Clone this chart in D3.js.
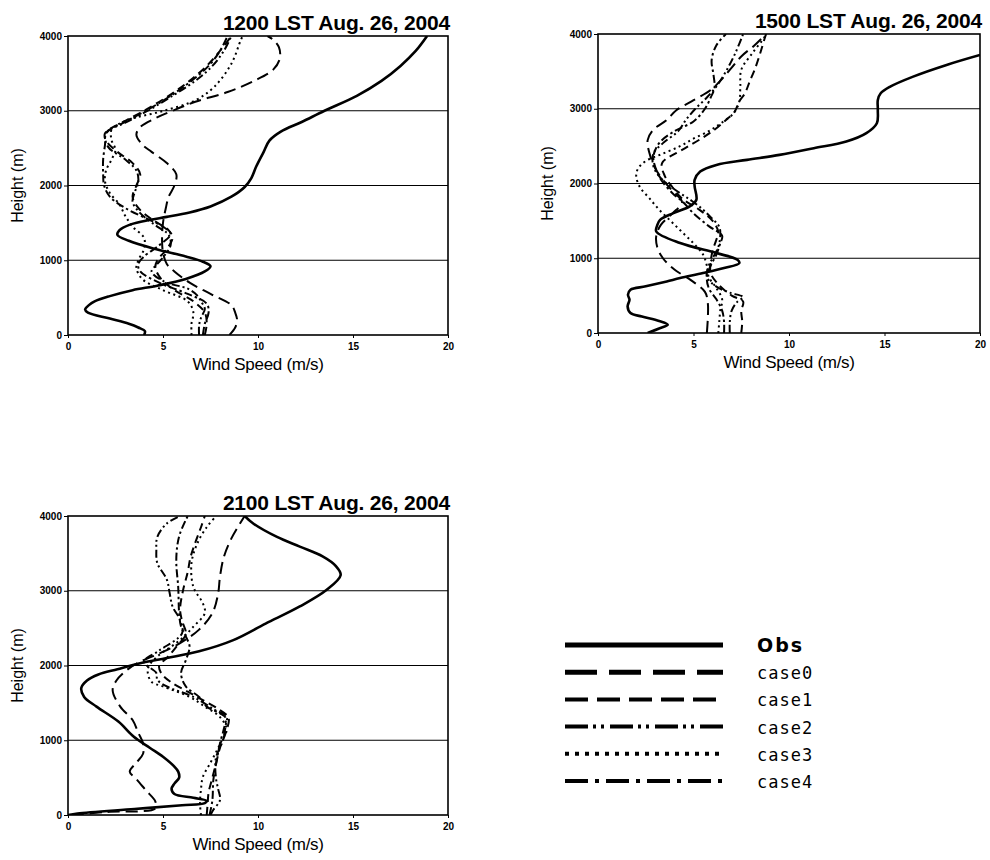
<!DOCTYPE html>
<html>
<head>
<meta charset="utf-8">
<script src="https://cdnjs.cloudflare.com/ajax/libs/d3/7.8.5/d3.min.js"></script>
<style>
body { margin: 0; background: #fff; }
</style>
</head>
<body>
<script>
var xTicks = [0, 5, 10, 15, 20];
var yTicks = [0, 1000, 2000, 3000, 4000];
var gridLevels = [1000, 2000, 3000];
var seriesNames = ["Obs", "case0", "case1", "case2", "case3", "case4"];
var panelTitles = ["1200 LST Aug. 26, 2004", "1500 LST Aug. 26, 2004", "2100 LST Aug. 26, 2004"];

// profiles: [height (m), wind speed (m/s)]
var obs1200 = [[0,4.0],[50,4.05],[100,3.7],[150,3.2],[220,2.2],[300,1.05],[340,0.9],[400,1.1],[450,1.4],[520,2.2],[600,3.4],[660,4.7],[750,6.2],[850,7.2],[920,7.5],[980,7.1],[1050,6.2],[1150,4.6],[1260,3.2],[1340,2.6],[1400,2.7],[1480,3.3],[1540,4.3],[1580,5.2],[1640,6.4],[1720,7.5],[1850,8.6],[1980,9.3],[2100,9.65],[2250,9.9],[2450,10.3],[2600,10.6],[2720,11.2],[2850,12.3],[3000,13.5],[3200,15.2],[3400,16.5],[3600,17.5],[3800,18.3],[4000,18.9]];
var case0_1200 = [[0,8.5],[100,8.8],[200,8.9],[300,8.8],[400,8.6],[550,7.5],[700,6.4],[850,5.6],[950,5.2],[1100,5.0],[1300,4.95],[1500,5.0],[1700,5.15],[1850,5.3],[2000,5.6],[2150,5.7],[2300,5.2],[2450,4.4],[2550,3.9],[2680,3.6],[2780,3.8],[2900,4.6],[3000,5.5],[3120,6.7],[3250,8.4],[3400,9.8],[3550,10.8],[3700,11.15],[3850,11.1],[3950,10.8],[4000,10.5]];
var case1_1200 = [[0,7.2],[150,7.3],[300,7.2],[450,6.6],[600,5.6],[750,4.9],[900,4.6],[1000,4.7],[1150,5.2],[1300,5.5],[1400,5.3],[1550,4.4],[1700,3.7],[1850,3.4],[2000,3.6],[2150,3.8],[2300,3.4],[2450,2.6],[2600,2.0],[2700,1.95],[2850,2.9],[3000,4.0],[3200,5.3],[3400,6.4],[3600,7.3],[3800,8.0],[4000,8.6]];
var case2_1200 = [[0,6.9],[130,6.9],[230,7.0],[350,7.2],[450,7.0],[530,6.8],[620,6.3],[710,5.1],[850,4.4],[950,4.7],[1070,5.1],[1200,5.4],[1340,5.3],[1450,4.7],[1630,3.8],[1780,3.4],[1900,3.5],[2050,3.7],[2200,3.6],[2350,3.0],[2520,2.1],[2700,2.0],[2850,3.1],[3000,4.2],[3200,5.5],[3400,6.7],[3600,7.6],[3800,8.2],[4000,8.6]];
var case3_1200 = [[0,6.5],[150,6.5],[300,6.6],[450,6.3],[600,5.0],[750,3.9],[900,3.6],[1000,3.7],[1150,4.0],[1300,4.0],[1450,3.4],[1600,3.0],[1750,2.7],[1900,2.2],[2050,1.95],[2200,2.0],[2350,2.3],[2480,2.5],[2600,2.3],[2750,2.3],[2880,3.2],[2990,4.9],[3140,6.7],[3320,7.7],[3630,8.6],[3950,9.1],[4000,9.2]];
var case4_1200 = [[0,7.1],[150,7.2],[300,7.4],[420,7.3],[550,6.3],[700,4.8],[850,3.8],[950,3.7],[1050,4.0],[1200,4.8],[1350,5.4],[1450,5.0],[1550,4.2],[1700,3.0],[1850,2.2],[2000,1.9],[2150,1.85],[2350,1.85],[2550,1.95],[2700,2.0],[2850,3.0],[3000,4.1],[3200,5.4],[3400,6.5],[3600,7.4],[3800,8.0],[4000,8.4]];

var obs1500 = [[0,2.6],[60,3.2],[110,3.65],[160,3.2],[220,2.3],[267,1.7],[356,1.55],[445,1.65],[512,1.57],[579,1.7],[624,2.5],[690,3.6],[735,4.3],[802,5.5],[870,6.6],[935,7.4],[980,7.3],[1069,6.2],[1203,4.3],[1358,3.05],[1440,3.1],[1514,3.25],[1604,3.95],[1693,4.8],[1782,5.15],[1960,5.06],[2049,5.06],[2160,5.35],[2249,6.2],[2316,7.8],[2383,9.5],[2472,11.3],[2561,13.0],[2673,14.05],[2806,14.6],[2984,14.65],[3118,14.65],[3207,14.8],[3296,15.3],[3430,16.5],[3586,18.25],[3719,20.0]];
var case0_1500 = [[0,5.7],[200,5.75],[400,5.75],[550,5.6],[700,4.9],[850,4.0],[1000,3.4],[1150,3.1],[1300,3.05],[1450,3.3],[1600,3.9],[1750,4.4],[1900,3.9],[2050,3.4],[2200,3.0],[2400,2.7],[2580,2.6],[2720,2.9],[2850,3.6],[2980,4.1],[3100,4.9],[3250,5.9],[3400,6.5],[3550,7.0],[3700,7.5],[3850,8.2],[4000,8.8]];
var case1_1500 = [[0,7.5],[150,7.55],[300,7.5],[420,7.6],[500,7.0],[650,6.3],[800,5.9],[950,5.9],[1100,6.0],[1250,6.2],[1350,6.3],[1500,6.0],[1650,5.3],[1800,4.4],[1950,3.9],[2100,3.5],[2270,3.35],[2450,4.4],[2600,5.4],[2720,6.1],[2850,6.7],[2960,7.15],[3100,7.4],[3210,7.7],[3370,7.95],[3520,8.2],[3750,8.5],[3920,8.7],[4000,8.8]];
var case2_1500 = [[0,6.9],[150,6.9],[300,7.0],[420,7.3],[480,7.6],[540,6.9],[620,6.2],[750,5.7],[900,5.8],[1000,6.0],[1150,6.3],[1300,6.4],[1420,6.35],[1550,5.9],[1650,5.5],[1770,4.9],[1870,4.3],[2000,3.6],[2100,3.2],[2230,2.9],[2400,2.9],[2540,3.4],[2700,4.2],[2850,4.6],[3000,5.1],[3150,5.7],[3300,6.2],[3500,6.7],[3750,7.2],[4000,7.6]];
var case3_1500 = [[0,6.3],[150,6.35],[300,6.4],[450,6.5],[600,6.2],[750,5.8],[900,5.7],[1050,5.5],[1200,5.0],[1350,4.4],[1500,3.8],[1650,3.2],[1800,2.7],[1950,2.2],[2100,2.0],[2200,2.1],[2300,2.5],[2400,3.4],[2500,4.3],[2600,5.0],[2700,5.8],[2800,6.4],[2940,7.1],[3100,7.4],[3300,7.45],[3520,7.5],[3750,8.1],[3950,8.7],[4000,8.8]];
var case4_1500 = [[0,6.6],[150,6.6],[300,6.5],[450,6.2],[600,5.8],[750,5.7],[900,5.9],[1050,6.2],[1200,6.4],[1300,6.5],[1430,5.8],[1600,5.0],[1740,4.5],[1870,3.9],[2050,3.3],[2180,3.05],[2360,2.9],[2540,3.2],[2700,4.0],[2830,5.0],[3000,5.6],[3150,5.9],[3280,6.1],[3450,6.05],[3650,5.95],[3850,6.2],[4000,6.7]];

var obs2100 = [[0,0],[20,0.5],[80,3.5],[130,6.0],[160,7.2],[190,7.3],[230,6.6],[280,5.6],[350,5.45],[420,5.6],[500,5.85],[580,5.8],[660,5.55],[780,5.0],[900,4.3],[1050,3.45],[1250,2.65],[1450,1.5],[1580,0.85],[1700,0.7],[1800,1.0],[1880,1.6],[1950,2.6],[2030,3.8],[2100,5.2],[2190,6.9],[2340,8.7],[2560,10.4],[2790,12.2],[3010,13.6],[3210,14.35],[3330,14.1],[3460,13.4],[3590,12.2],[3720,11.0],[3900,9.75],[4000,9.3]];
var case0_2100 = [[0,0.2],[40,2.0],[90,4.6],[180,4.6],[330,4.1],[480,3.6],[580,3.25],[700,3.6],[820,3.95],[960,3.95],[1100,3.7],[1270,3.4],[1450,2.75],[1670,2.35],[1800,2.55],[1940,3.1],[2050,3.8],[2160,4.8],[2300,5.9],[2480,6.9],[2700,7.6],[2960,7.9],[3190,8.0],[3450,8.2],[3700,8.6],[4000,9.3]];
var case1_2100 = [[0,7.3],[150,7.35],[300,7.4],[500,7.6],[700,7.8],[900,8.0],[1100,8.3],[1300,8.45],[1420,7.9],[1550,7.0],[1650,6.3],[1780,5.4],[1900,4.9],[2000,4.8],[2100,5.2],[2250,5.7],[2420,6.2],[2600,6.0],[2750,5.9],[3000,6.05],[3250,6.3],[3450,6.45],[3680,6.75],[3850,7.0],[4000,7.2]];
var case2_2100 = [[0,7.5],[70,7.65],[200,8.0],[350,7.9],[470,7.8],[650,7.75],[780,7.8],[1000,8.15],[1200,8.3],[1320,8.35],[1410,7.7],[1580,6.6],[1720,5.2],[1810,4.7],[1900,4.65],[2050,4.0],[2200,4.8],[2430,6.0],[2610,5.9],[2790,5.5],[2970,5.35],[3150,5.2],[3370,4.7],[3550,4.65],[3720,4.7],[3900,5.2],[4000,5.9]];
var case3_2100 = [[0,7.0],[150,6.95],[350,7.0],[510,7.1],[700,7.5],[870,7.85],[1000,8.1],[1140,8.35],[1310,8.0],[1450,7.2],[1580,6.4],[1720,5.0],[1780,4.4],[1900,4.2],[1990,4.25],[2120,4.7],[2340,5.9],[2520,6.6],[2700,7.2],[2830,7.1],[3050,6.6],[3370,6.5],[3630,6.8],[3850,7.3],[4000,7.8]];
var case4_2100 = [[0,7.45],[200,7.6],[470,7.65],[690,7.8],[960,8.0],[1150,8.2],[1300,8.3],[1360,8.0],[1450,7.3],[1580,6.9],[1720,6.2],[1900,5.95],[2070,6.2],[2250,6.4],[2390,6.2],[2520,5.95],[2700,5.85],[3050,5.8],[3370,5.7],[3600,5.75],[3770,5.9],[4000,6.3]];

var svg = d3.select('body').append('svg')
  .attr('width', 990)
  .attr('height', 860);

// line styles in the plots, and bigger ones for the legend
var plotDash = {Obs: null, case0: "12,6", case1: "8,5", case2: "8,3,2,3,2,3", case3: "2,3.5", case4: "8,3,2.5,3"};
var plotWidth = {Obs: 2.6, case0: 2, case1: 2, case2: 2, case3: 2, case4: 2};
var legendDash = {Obs: null, case0: "32,12", case1: "23,9", case2: "23,5,3,5,3,6", case3: "4,6", case4: "23,7,4,7"};
var legendWidth = {Obs: 5, case0: 5, case1: 4, case2: 4, case3: 4, case4: 4};

var panels = [
  {title: panelTitles[0], left: 68, top: 36, right: 448, bottom: 335,
   series: [obs1200, case0_1200, case1_1200, case2_1200, case3_1200, case4_1200]},
  {title: panelTitles[1], left: 598, top: 34, right: 980, bottom: 333,
   series: [obs1500, case0_1500, case1_1500, case2_1500, case3_1500, case4_1500]},
  {title: panelTitles[2], left: 68, top: 516, right: 448, bottom: 815,
   series: [obs2100, case0_2100, case1_2100, case2_2100, case3_2100, case4_2100]}
];

panels.forEach(function(p, idx) {
  var x = d3.scaleLinear().domain([0, 20]).range([p.left, p.right]);
  var y = d3.scaleLinear().domain([0, 4000]).range([p.bottom, p.top]);
  var g = svg.append('g');

  var clipId = 'clip' + idx;
  svg.append('clipPath').attr('id', clipId)
    .append('rect')
    .attr('x', p.left).attr('y', p.top)
    .attr('width', p.right - p.left).attr('height', p.bottom - p.top);

  g.selectAll('.grid').data(gridLevels).enter().append('line')
    .attr('x1', p.left).attr('x2', p.right)
    .attr('y1', function(d) { return y(d); })
    .attr('y2', function(d) { return y(d); })
    .attr('stroke', '#000').attr('stroke-width', 1.2);

  var line = d3.line()
    .x(function(d) { return x(d[1]); })
    .y(function(d) { return y(d[0]); })
    .curve(d3.curveCatmullRom.alpha(0.5));

  var lines = g.append('g').attr('clip-path', 'url(#' + clipId + ')');
  // draw cases first, obs on top
  for (var i = p.series.length - 1; i >= 0; i--) {
    var name = seriesNames[i];
    lines.append('path')
      .attr('d', line(p.series[i]))
      .attr('fill', 'none')
      .attr('stroke', '#000')
      .attr('stroke-width', plotWidth[name])
      .attr('stroke-dasharray', plotDash[name]);
  }

  var xAxis = d3.axisBottom(x).tickValues(xTicks).tickFormat(d3.format('d')).tickSize(3).tickPadding(5);
  var yAxis = d3.axisLeft(y).tickValues(yTicks).tickFormat(d3.format('d')).tickSize(4).tickPadding(2);

  var gx = g.append('g').attr('transform', 'translate(0,' + p.bottom + ')').call(xAxis);
  var gy = g.append('g').attr('transform', 'translate(' + p.left + ',0)').call(yAxis);
  [gx, gy].forEach(function(a) {
    a.select('.domain').remove();
    a.selectAll('line').attr('stroke', '#000');
    a.selectAll('text')
      .attr('fill', '#000')
      .style('font-family', '"Liberation Sans", Arial, sans-serif')
      .style('font-weight', 'bold')
      .style('font-size', '10px');
  });

  g.append('rect')
    .attr('x', p.left).attr('y', p.top)
    .attr('width', p.right - p.left).attr('height', p.bottom - p.top)
    .attr('fill', 'none').attr('stroke', '#000').attr('stroke-width', 1.6);

  g.append('text')
    .attr('x', p.right + 2).attr('y', p.top - 6)
    .attr('text-anchor', 'end')
    .style('font-family', '"Liberation Sans", Arial, sans-serif')
    .style('font-weight', 'bold')
    .style('font-size', '21px')
    .style('letter-spacing', '-0.2px')
    .text(p.title);

  g.append('text')
    .attr('x', (p.left + p.right) / 2).attr('y', p.bottom + 35)
    .attr('text-anchor', 'middle')
    .style('font-family', '"Liberation Sans", Arial, sans-serif')
    .style('font-size', '17px')
    .style('letter-spacing', '-0.3px')
    .text('Wind Speed (m/s)');

  g.append('text')
    .attr('transform', 'translate(' + (p.left - 45) + ',' + ((p.top + p.bottom) / 2) + ') rotate(-90)')
    .attr('text-anchor', 'middle')
    .style('font-family', '"Liberation Sans", Arial, sans-serif')
    .style('font-size', '16px')
    .text('Height (m)');
});

// legend
var legendY = d3.scalePoint().domain(seriesNames).range([645, 781]);
var legend = svg.append('g');
seriesNames.forEach(function(name) {
  legend.append('line')
    .attr('x1', 565).attr('x2', 723)
    .attr('y1', legendY(name)).attr('y2', legendY(name))
    .attr('stroke', '#000')
    .attr('stroke-width', legendWidth[name])
    .attr('stroke-dasharray', legendDash[name]);
  legend.append('text')
    .attr('x', 757).attr('y', legendY(name) + 7)
    .style('font-family', name == 'Obs' ? '"DejaVu Sans", sans-serif' : '"DejaVu Sans Mono", monospace')
    .style('font-weight', name == 'Obs' ? 'bold' : 'normal')
    .style('font-size', name == 'Obs' ? '19px' : '17px')
    .style('letter-spacing', name == 'Obs' ? '2px' : '1px')
    .text(name);
});
</script>
</body>
</html>
